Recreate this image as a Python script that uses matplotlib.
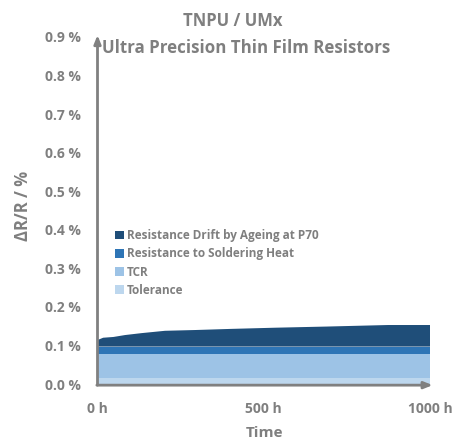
import matplotlib
matplotlib.use("Agg")
import matplotlib.pyplot as plt
import numpy as np

# Data
hours = [0, 17, 48, 83, 133, 203, 293, 404, 534, 689, 874, 1000]
tolerance = [0.015] * len(hours)
tcr = [0.062] * len(hours)
soldering = [0.020] * len(hours)
drift = [0.017, 0.023, 0.025, 0.030, 0.035, 0.041, 0.043, 0.046, 0.049, 0.052, 0.056, 0.056]
labels = ["Tolerance", "TCR", "Resistance to Soldering Heat", "Resistance Drift by Ageing at P70"]
colors = ["#BDD7EE", "#9DC3E6", "#2E75B6", "#1F4E79"]
yticks = [0.0, 0.1, 0.2, 0.3, 0.4, 0.5, 0.6, 0.7, 0.8, 0.9]
xticks = [0, 500, 1000]

plt.rcParams['font.family'] = ['Open Sans', 'DejaVu Sans']
gray = "#7F7F7F"

fig = plt.figure(figsize=(4.53, 4.43), dpi=100)
ax = fig.add_axes([97.5/453, 1-384/443, (430-97.5)/453, (384-37)/443])

x = np.array(hours)
series = [tolerance, tcr, soldering, drift]
ax.stackplot(x, *series, colors=colors, labels=labels, linewidth=0)

ax.set_xlim(0, 1000)
ax.set_ylim(0, 0.9)
for s in ax.spines.values():
    s.set_visible(False)

# axis arrows
ax.annotate("", xy=(0, 0.905), xytext=(0, -0.003), xycoords='data',
            arrowprops=dict(arrowstyle="-|>,head_length=0.5,head_width=0.2", color="#808080", lw=2, shrinkA=0, shrinkB=0),
            annotation_clip=False)
ax.annotate("", xy=(1008, -0.003), xytext=(-2, -0.003), xycoords='data',
            arrowprops=dict(arrowstyle="-|>,head_length=0.5,head_width=0.2", color="#808080", lw=2, shrinkA=0, shrinkB=0),
            annotation_clip=False)

ax.set_yticks(yticks)
ax.set_yticklabels([f"{v:.1f} %" for v in yticks], fontsize=10, fontweight='bold', color=gray)
ax.set_xticks(xticks)
ax.set_xticklabels([f"{v} h" for v in xticks], fontsize=10, fontweight='bold', color=gray)
ax.tick_params(axis='both', length=0)
ax.tick_params(axis='y', pad=12)
ax.tick_params(axis='x', pad=13)

fig.text(23/453, 1-206/443, "ΔR/R / %", rotation=90, ha='center', va='center',
         fontsize=12, fontweight='bold', color=gray)
fig.text(264/453, 1-433/443, "Time", ha='center', va='center',
         fontsize=11, fontweight='bold', color=gray)
fig.text(233/453, 1-21/443, "TNPU / UMx", ha='center', va='center',
         fontsize=12, fontweight='bold', color=gray)
fig.text(102/453, 1-48/443, "Ultra Precision Thin Film Resistors", ha='left', va='center',
         fontsize=12.2, fontweight='bold', color=gray)

handles, lbls = ax.get_legend_handles_labels()
leg = ax.legend(handles[::-1], lbls[::-1], loc='upper left', bbox_to_anchor=(115/453, 1-229/443),
                bbox_transform=fig.transFigure, frameon=False, fontsize=8.5,
                handlelength=0.75, handleheight=0.75, handletextpad=0.25, labelspacing=0.45,
                borderaxespad=0, borderpad=0)
for t in leg.get_texts():
    t.set_color(gray)
    t.set_fontweight('bold')

fig.savefig("out.png", dpi=100)
